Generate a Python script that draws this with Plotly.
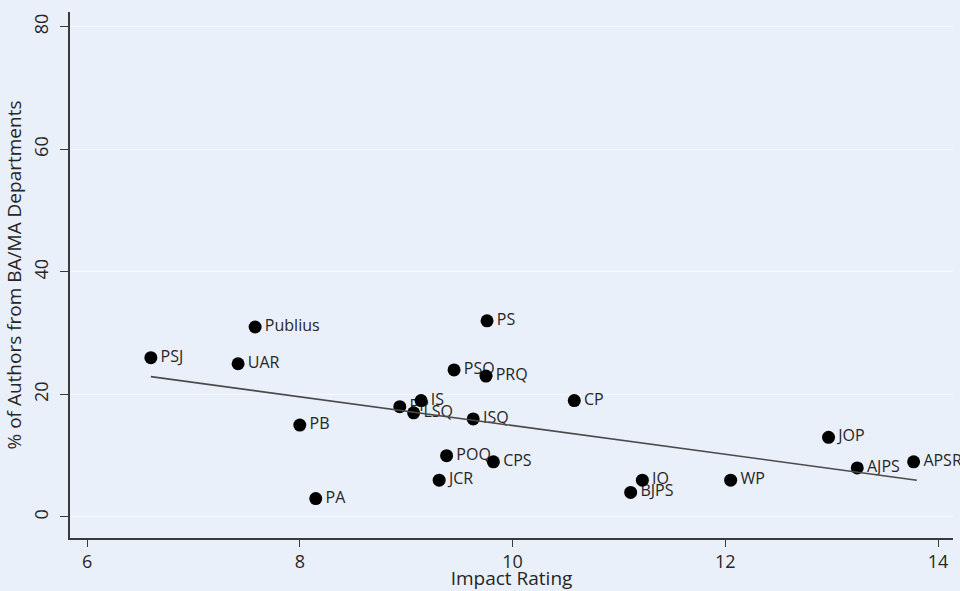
import plotly.graph_objects as go

journals = ["PSJ", "Publius", "UAR", "PB", "PA", "PS", "PSQ", "PRQ", "PP", "IS",
            "LSQ", "ISQ", "POQ", "CPS", "JCR", "CP", "IO", "BJPS", "WP", "JOP",
            "AJPS", "APSR"]
impact = [6.60, 7.58, 7.42, 8.00, 8.15, 9.76, 9.45, 9.75, 8.94, 9.14,
          9.07, 9.63, 9.38, 9.82, 9.31, 10.58, 11.22, 11.11, 12.05, 12.97,
          13.24, 13.77]
pct_ba_ma = [26, 31, 25, 15, 3, 32, 24, 23, 18, 19,
             17, 16, 10, 9, 6, 19, 6, 4, 6, 13,
             8, 9]

fit_x = [6.60, 13.80]
fit_y = [22.9, 6.0]

x_ticks = [6, 8, 10, 12, 14]
y_ticks = [0, 20, 40, 60, 80]

FONT = "Open Sans"
BG = "#EAF0F9"
TXT = "#262626"

fig = go.Figure()
fig.add_trace(go.Scatter(
    x=impact, y=pct_ba_ma, mode="markers+text", text=journals,
    textposition="middle right",
    marker=dict(size=14, opacity=0),
    textfont=dict(family=FONT, size=16, color=TXT),
    hoverinfo="skip", showlegend=False, cliponaxis=False,
))
fig.add_trace(go.Scatter(
    x=impact, y=pct_ba_ma, mode="markers",
    marker=dict(size=13, color="#000000"),
    showlegend=False, hoverinfo="skip",
))
fig.add_trace(go.Scatter(
    x=fit_x, y=fit_y, mode="lines",
    line=dict(color="#4a4a4a", width=1.6),
    showlegend=False, hoverinfo="skip",
))

fig.update_layout(
    width=960, height=591,
    margin=dict(l=70, r=7, t=12, b=53),
    paper_bgcolor=BG, plot_bgcolor=BG,
    font=dict(family=FONT, color=TXT),
)
fig.update_xaxes(
    range=[5.84, 14.14], tickvals=x_ticks, ticktext=[str(v) for v in x_ticks],
    showgrid=False, zeroline=False, automargin=False,
    showline=True, linecolor="#3a3a3a", linewidth=1.5,
    ticks="outside", ticklen=7, tickwidth=1.2, tickcolor="#3a3a3a",
    tickfont=dict(family=FONT, size=18, color=TXT),
    ticklabelstandoff=0,
    title=dict(text="Impact Rating", font=dict(family=FONT, size=19, color=TXT), standoff=0),
)
fig.update_yaxes(
    range=[-3.43, 82.4], tickvals=y_ticks, ticktext=[str(v) for v in y_ticks],
    tickangle=-90, automargin=False,
    showgrid=True, gridcolor="#F6F9FD", gridwidth=1, zeroline=False,
    showline=True, linecolor="#3a3a3a", linewidth=1.5,
    ticks="outside", ticklen=8, tickwidth=1.2, tickcolor="#3a3a3a",
    tickfont=dict(family=FONT, size=18, color=TXT),
    ticklabelstandoff=5,
    title=dict(text="% of Authors from BA/MA Departments", font=dict(family=FONT, size=19, color=TXT), standoff=2),
)

fig.write_html("out.html", config={"displayModeBar": False},
               post_script="document.body.style.margin='0px';")
